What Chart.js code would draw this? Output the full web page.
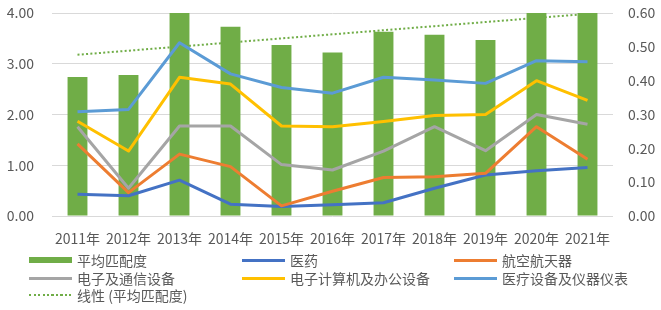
<!DOCTYPE html>
<html>
<head>
<meta charset="utf-8">
<script src="https://cdn.jsdelivr.net/npm/chart.js@4.4.1/dist/chart.umd.min.js"></script>
<style>
  html, body { margin: 0; padding: 0; background: #fff; }
  #wrap { position: relative; width: 661px; height: 310px; overflow: hidden; }
  #box { position: absolute; left: 0; top: 0; width: 661px; height: 250px; }
  #legend { position: absolute; left: 0; top: 0; width: 661px; height: 310px; pointer-events: none;
    font-family: "Noto Sans CJK SC", "Noto Sans", sans-serif; font-size: 14px; color: #595959; }
  .item { position: absolute; display: flex; align-items: center; height: 18px; white-space: nowrap; }
  .sym { width: 43px; margin-right: 5px; }
</style>
</head>
<body>
<div id="wrap">
  <div id="box"><canvas id="matchChart"></canvas></div>
  <div id="legend"></div>
</div>
<script>
const years = ['2011年', '2012年', '2013年', '2014年', '2015年', '2016年', '2017年', '2018年', '2019年', '2020年', '2021年'];

// left axis (bars)
const avgMatch = [2.74, 2.78, 4.62, 3.73, 3.37, 3.22, 3.63, 3.57, 3.47, 4.05, 4.20];

// right axis (lines)
const pharma   = [0.064, 0.060, 0.106, 0.035, 0.028, 0.033, 0.039, 0.082, 0.121, 0.134, 0.143];
const aero     = [0.213, 0.069, 0.183, 0.146, 0.030, 0.073, 0.114, 0.116, 0.126, 0.264, 0.168];
const telecom  = [0.264, 0.082, 0.266, 0.266, 0.152, 0.136, 0.192, 0.264, 0.193, 0.300, 0.271];
const computer = [0.280, 0.192, 0.410, 0.390, 0.266, 0.264, 0.279, 0.297, 0.300, 0.400, 0.342];
const medical  = [0.308, 0.315, 0.512, 0.420, 0.380, 0.363, 0.410, 0.402, 0.392, 0.459, 0.456];

const leftTicks = [0, 1, 2, 3, 4];
const rightTicks = [0, 0.1, 0.2, 0.3, 0.4, 0.5, 0.6];

// linear trendline of the bars (least squares, like Excel's 线性)
function linearTrend(ys) {
  const n = ys.length;
  let sx = 0, sy = 0, sxy = 0, sxx = 0;
  ys.forEach((y, i) => { sx += i; sy += y; sxy += i * y; sxx += i * i; });
  const b = (n * sxy - sx * sy) / (n * sxx - sx * sx);
  const a = (sy - b * sx) / n;
  return ys.map((y, i) => a + b * i);
}
const trend = linearTrend(avgMatch);

const green = '#70AD47';
const font = { family: '"Noto Sans CJK SC", "Noto Sans", sans-serif', size: 14 };

const datasets = [
  { type: 'bar', label: '平均匹配度', data: avgMatch, backgroundColor: green, yAxisID: 'y', order: 10,
    barPercentage: 0.39, categoryPercentage: 1, sym: 'bar' },
  { type: 'line', label: '医药', data: pharma, borderColor: '#4472C4', yAxisID: 'y1', order: 5 },
  { type: 'line', label: '航空航天器', data: aero, borderColor: '#ED7D31', yAxisID: 'y1', order: 4 },
  { type: 'line', label: '电子及通信设备', data: telecom, borderColor: '#A5A5A5', yAxisID: 'y1', order: 3 },
  { type: 'line', label: '电子计算机及办公设备', data: computer, borderColor: '#FFC000', yAxisID: 'y1', order: 2 },
  { type: 'line', label: '医疗设备及仪器仪表', data: medical, borderColor: '#5B9BD5', yAxisID: 'y1', order: 1 },
  { type: 'line', label: '线性 (平均匹配度)', data: trend, borderColor: green, yAxisID: 'y', order: 20,
    borderWidth: 2, borderDash: [2, 2.3], sym: 'dot' }
];
datasets.forEach(d => {
  if (d.type === 'line') {
    d.pointRadius = 0;
    d.tension = 0;
    d.fill = false;
    if (!d.borderWidth) d.borderWidth = 3;
    d.borderJoinStyle = 'round';
  }
});

// fixed axis sizes so the plot area sits where the original has it
function fixY(width) {
  return s => { s.width = width; s.paddingTop = 0; s.paddingBottom = 0; };
}

const matchChart = new Chart(document.getElementById('matchChart'), {
  data: { labels: years, datasets: datasets },
  options: {
    responsive: true,
    maintainAspectRatio: false,
    animation: false,
    devicePixelRatio: 1,
    layout: { padding: { top: 13, left: 0, right: 0, bottom: 0 } },
    plugins: { legend: { display: false }, tooltip: { enabled: false } },
    scales: {
      x: {
        offset: true,
        grid: { display: false, drawTicks: false },
        border: { display: false },
        ticks: { color: '#595959', font: font, padding: 14, maxRotation: 0, autoSkip: false },
        afterFit: s => { s.height = 34; s.paddingLeft = 0; s.paddingRight = 0; }
      },
      y: {
        position: 'left',
        min: 0, max: 4,
        afterBuildTicks: s => { s.ticks = leftTicks.map(v => ({ value: v })); },
        ticks: { color: '#595959', font: font, padding: 18, callback: v => v.toFixed(2) },
        grid: { color: '#D9D9D9', lineWidth: 1, drawTicks: false },
        border: { display: false },
        afterFit: fixY(52)
      },
      y1: {
        position: 'right',
        min: 0, max: 0.6,
        afterBuildTicks: s => { s.ticks = rightTicks.map(v => ({ value: v })); },
        ticks: { color: '#595959', font: font, padding: 15, callback: v => v.toFixed(2) },
        grid: { display: false, drawTicks: false },
        border: { display: false },
        afterFit: fixY(48)
      }
    }
  }
});

// legend in three columns, like the original
const legend = document.getElementById('legend');
const colX = [29, 242, 454];
const rowY = [251, 269, 286];
datasets.forEach((d, i) => {
  const item = document.createElement('div');
  item.className = 'item';
  item.style.left = colX[i % 3] + 'px';
  item.style.top = rowY[Math.floor(i / 3)] + 'px';
  const sym = document.createElement('span');
  sym.className = 'sym';
  if (d.sym === 'bar') {
    sym.style.height = '6px';
    sym.style.background = d.backgroundColor;
  } else if (d.sym === 'dot') {
    sym.style.height = '2px';
    sym.style.background = 'repeating-linear-gradient(to right, ' + green + ' 0 2px, transparent 2px 4.5px)';
  } else {
    sym.style.height = '3px';
    sym.style.background = d.borderColor;
  }
  const txt = document.createElement('span');
  txt.textContent = d.label;
  item.appendChild(sym);
  item.appendChild(txt);
  legend.appendChild(item);
});
</script>
</body>
</html>
